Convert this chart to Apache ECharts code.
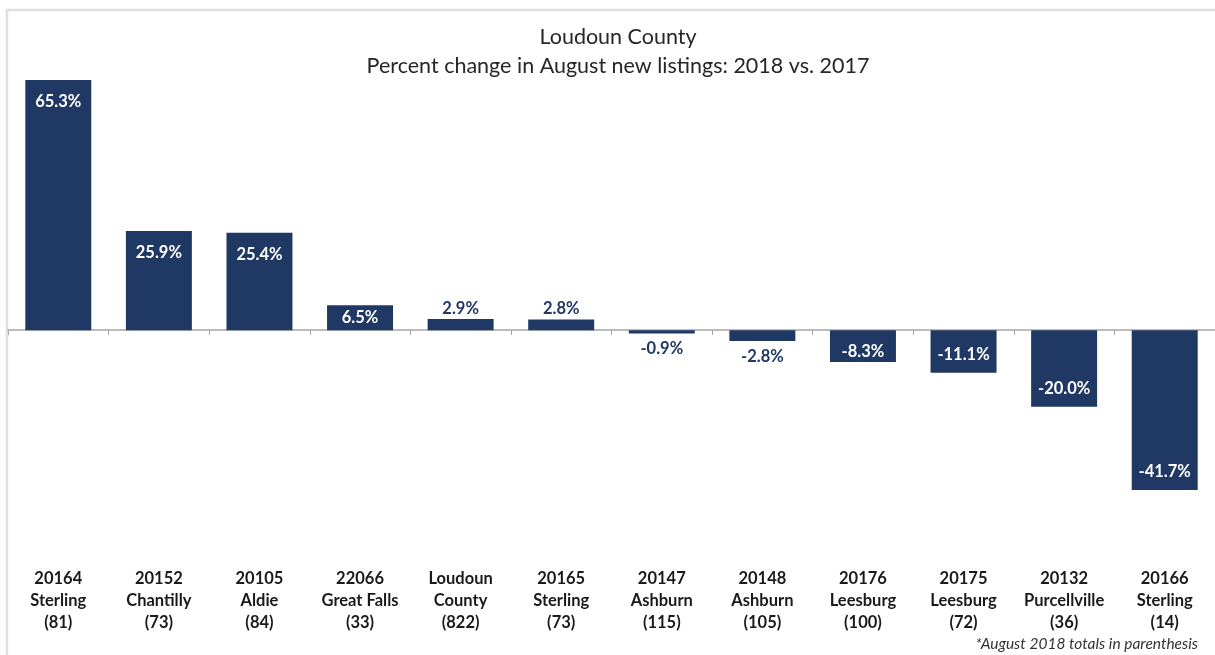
<!DOCTYPE html>
<html>
<head>
<meta charset="utf-8">
<script src="https://cdn.jsdelivr.net/npm/echarts@6/dist/echarts.min.js"></script>
<style>
  html, body { margin: 0; padding: 0; background: #fff; }
  #main { width: 1215px; height: 655px; }
</style>
</head>
<body>
<div id="main"></div>
<script>
// data
var zips = ['20164', '20152', '20105', '22066', 'Loudoun', '20165', '20147', '20148', '20176', '20175', '20132', '20166'];
var places = ['Sterling', 'Chantilly', 'Aldie', 'Great Falls', 'County', 'Sterling', 'Ashburn', 'Ashburn', 'Leesburg', 'Leesburg', 'Purcellville', 'Sterling'];
var totals = [81, 73, 84, 33, 822, 73, 115, 105, 100, 72, 36, 14];
var pctChange = [65.3, 25.9, 25.4, 6.5, 2.9, 2.8, -0.9, -2.8, -8.3, -11.1, -20.0, -41.7];

var navy = '#203864';
var font = 'Lato, "Open Sans", sans-serif';

var categories = zips.map(function (z, i) {
    return z + '\n' + places[i] + '\n(' + totals[i] + ')';
});

// label placement like the excel chart: inside for big bars, outside for tiny ones
function labelFor(v) {
    var a = Math.abs(v);
    if (v > 0) {
        if (a >= 10) return { position: 'insideTop', distance: 13, color: '#fff' };
        if (a >= 5) return { position: 'insideTop', distance: 4, color: '#fff' };
        return { position: 'top', distance: 2, color: navy };
    }
    if (a >= 10) return { position: 'insideBottom', distance: 10, color: '#fff' };
    if (a >= 5) return { position: 'insideBottom', distance: 2, color: '#fff' };
    return { position: 'bottom', distance: 7, color: navy };
}

var barData = pctChange.map(function (v) {
    return { value: v, label: labelFor(v) };
});

var chart = echarts.init(document.getElementById('main'));

var option = {
    backgroundColor: '#fff',
    animation: false,
    title: {
        text: 'Loudoun County\nPercent change in August new listings: 2018 vs. 2017',
        left: 613,
        top: 18,
        textAlign: 'center',
        textStyle: {
            fontFamily: font,
            fontSize: 21.5,
            fontWeight: 'normal',
            color: '#262626',
            lineHeight: 29
        }
    },
    graphic: [
        {
            type: 'polyline',
            shape: { points: [[7, 655], [7, 10], [1215, 10]] },
            style: { stroke: '#e0e0e0', lineWidth: 2.5, fill: null },
            silent: true
        },
        {
            type: 'text',
            right: 17,
            top: 636,
            style: {
                text: '*August 2018 totals in parenthesis',
                font: 'italic 15.5px ' + font,
                fill: '#333'
            }
        }
    ],
    grid: {
        left: 8,
        right: -1,
        top: 62,
        bottom: 95,
        containLabel: false
    },
    xAxis: [
        {
            type: 'category',
            data: categories,
            position: 'bottom',
            axisLine: { onZero: true, lineStyle: { color: '#a6a6a6', width: 1.5 } },
            axisTick: { show: true, length: 5, lineStyle: { color: '#a6a6a6' } },
            axisLabel: { show: false }
        },
        {
            type: 'category',
            data: categories,
            position: 'bottom',
            axisLine: { show: false, onZero: false },
            axisTick: { show: false },
            axisLabel: {
                show: true,
                interval: 0,
                margin: 8,
                fontFamily: font,
                fontSize: 16.5,
                fontWeight: 'bold',
                lineHeight: 22,
                color: '#1a1a1a'
            }
        }
    ],
    yAxis: {
        type: 'value',
        min: -60,
        max: 70,
        show: false,
        splitLine: { show: false }
    },
    series: [
        {
            type: 'bar',
            xAxisIndex: 0,
            data: barData,
            barWidth: '65.6%',
            itemStyle: { color: navy },
            label: {
                show: true,
                fontFamily: font,
                fontSize: 16.5,
                fontWeight: 'bold',
                formatter: function (p) { return p.value.toFixed(1) + '%'; }
            }
        }
    ]
};

chart.setOption(option);
</script>
</body>
</html>
